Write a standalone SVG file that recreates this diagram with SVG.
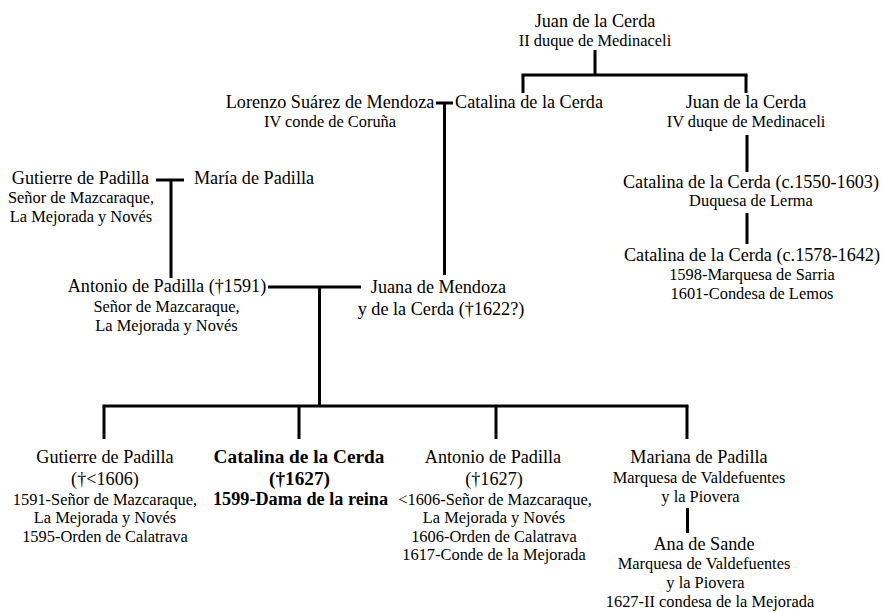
<svg xmlns="http://www.w3.org/2000/svg" width="883" height="612" viewBox="0 0 883 612">
<style>
text{font-family:"Liberation Serif","Times New Roman",serif;fill:#000;text-anchor:middle}
.n{font-size:18.2px}
.s{font-size:16.4px}
.b{font-size:19.3px;font-weight:bold}
.bs{font-size:18.2px;font-weight:bold}
.c line{stroke:#000;stroke-width:3}
</style>
<rect width="883" height="612" fill="#fff"/>
<g class="c" id="connectors">
<line x1="595" y1="50" x2="595" y2="75"/>
<line x1="521.5" y1="75" x2="747.5" y2="75"/>
<line x1="523" y1="75" x2="523" y2="93"/>
<line x1="746" y1="75" x2="746" y2="93"/>
<line x1="436" y1="103" x2="453" y2="103"/>
<line x1="444.5" y1="103" x2="444.5" y2="275"/>
<line x1="156" y1="180" x2="184" y2="180"/>
<line x1="171" y1="180" x2="171" y2="278"/>
<line x1="268" y1="287" x2="361" y2="287"/>
<line x1="319.5" y1="287" x2="319.5" y2="406"/>
<line x1="102.5" y1="406" x2="688.5" y2="406"/>
<line x1="104" y1="406" x2="104" y2="439"/>
<line x1="299" y1="406" x2="299" y2="439"/>
<line x1="496" y1="406" x2="496" y2="439"/>
<line x1="687" y1="406" x2="687" y2="439"/>
<line x1="687.5" y1="508" x2="687.5" y2="533"/>
<line x1="747" y1="135" x2="747" y2="172"/>
<line x1="747" y1="213" x2="747" y2="244"/>
</g>
<g id="juan2"><text class="n" x="595" y="27">Juan de la Cerda</text><text class="s" x="595" y="46">II duque de Medinaceli</text></g>
<g id="lorenzo"><text class="n" x="330" y="108">Lorenzo Suárez de Mendoza</text><text class="s" x="330" y="127">IV conde de Coruña</text></g>
<g id="catalina1"><text class="n" x="529" y="108">Catalina de la Cerda</text></g>
<g id="juan4"><text class="n" x="746" y="108">Juan de la Cerda</text><text class="s" x="746" y="127">IV duque de Medinaceli</text></g>
<g id="gutierre1"><text class="n" x="80.5" y="184">Gutierre de Padilla</text><text class="s" x="81" y="203">Señor de Mazcaraque,</text><text class="s" x="81" y="221.5">La Mejorada y Novés</text></g>
<g id="maria"><text class="n" x="254" y="184">María de Padilla</text></g>
<g id="catalina1550"><text class="n" x="751" y="188">Catalina de la Cerda (c.1550-1603)</text><text class="s" x="751" y="206">Duquesa de Lerma</text></g>
<g id="catalina1578"><text class="n" x="752" y="261">Catalina de la Cerda (c.1578-1642)</text><text class="s" x="752" y="280">1598-Marquesa de Sarria</text><text class="s" x="752" y="298.5">1601-Condesa de Lemos</text></g>
<g id="antonio1"><text class="n" x="167" y="292">Antonio de Padilla (†1591)</text><text class="s" x="166.5" y="311.5">Señor de Mazcaraque,</text><text class="s" x="166.5" y="330.5">La Mejorada y Novés</text></g>
<g id="juana"><text class="n" x="438.5" y="293">Juana de Mendoza</text><text class="n" x="441" y="315">y de la Cerda (†1622?)</text></g>
<g id="gutierre2"><text class="n" x="105" y="463">Gutierre de Padilla</text><text class="n" x="105" y="485">(†&lt;1606)</text><text class="s" x="105" y="504.5">1591-Señor de Mazcaraque,</text><text class="s" x="105" y="522.5">La Mejorada y Novés</text><text class="s" x="105" y="541.5">1595-Orden de Calatrava</text></g>
<g id="catalina1627"><text class="b" x="299" y="463">Catalina de la Cerda</text><text class="b" x="299.5" y="485">(†1627)</text><text class="bs" x="300.5" y="504.5">1599-Dama de la reina</text></g>
<g id="antonio2"><text class="n" x="493" y="463">Antonio de Padilla</text><text class="n" x="494" y="485">(†1627)</text><text class="s" x="495" y="504.5">&lt;1606-Señor de Mazcaraque,</text><text class="s" x="494" y="522.5">La Mejorada y Novés</text><text class="s" x="494" y="541.5">1606-Orden de Calatrava</text><text class="s" x="494" y="559.5">1617-Conde de la Mejorada</text></g>
<g id="mariana"><text class="n" x="699" y="463">Mariana de Padilla</text><text class="s" x="699" y="483">Marquesa de Valdefuentes</text><text class="s" x="700.5" y="501.5">y la Piovera</text></g>
<g id="ana"><text class="n" x="704" y="550">Ana de Sande</text><text class="s" x="704" y="569">Marquesa de Valdefuentes</text><text class="s" x="705.5" y="588">y la Piovera</text><text class="s" x="710" y="607">1627-II condesa de la Mejorada</text></g>
</svg>
